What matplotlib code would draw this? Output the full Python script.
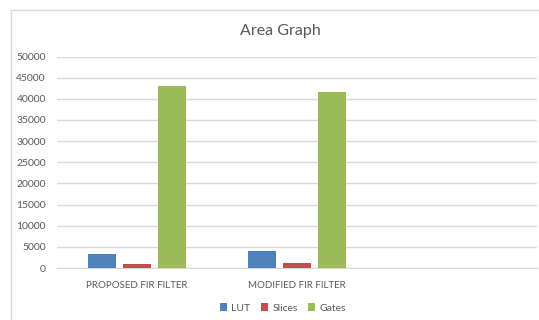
import matplotlib.pyplot as plt
import numpy as np

plt.rcParams['font.family'] = ['Lato', 'DejaVu Sans']

categories = ['PROPOSED FIR FILTER', 'MODIFIED FIR FILTER']
lut = [3300, 4100]
slices = [870, 1100]
gates = [43000, 41500]
y_ticks = list(range(0, 50001, 5000))

series = [('LUT', lut, '#4F81BD'),
          ('Slices', slices, '#C0504D'),
          ('Gates', gates, '#9BBB59')]

fig = plt.figure(figsize=(5.39, 3.2), dpi=100)
ax = fig.add_axes([57 / 539, 1 - 268 / 320, 480 / 539, 211.5 / 320])

# chart frame (top and left edges only are visible)
fig.add_artist(plt.Line2D([11 / 539, 1], [1 - 10 / 320] * 2, color='#D9D9D9', lw=1))
fig.add_artist(plt.Line2D([11 / 539] * 2, [0, 1 - 10 / 320], color='#D9D9D9', lw=1))

x = np.arange(len(categories))
width = 0.175
offsets = [-0.22, 0.0, 0.22]
for (name, vals, col), off in zip(series, offsets):
    ax.bar(x + off, vals, width, color=col, label=name, zorder=3)

ax.set_xlim(-0.5, 2.5)
ax.set_ylim(0, 50000)
ax.set_yticks(y_ticks)
ax.set_xticks(x)
ax.set_xticklabels(categories)
ax.grid(axis='y', color='#D9D9D9', lw=1, zorder=0)
for s in ['top', 'right', 'left']:
    ax.spines[s].set_visible(False)
ax.spines['bottom'].set_color('#D9D9D9')
ax.tick_params(axis='both', length=0, colors='#595959')
ax.tick_params(axis='y', pad=8, labelsize=7.5)
ax.tick_params(axis='x', pad=9, labelsize=7)

fig.text(280 / 539, 1 - 31 / 320, 'Area Graph', ha='center', va='center',
         fontsize=11.5, color='#595959')

fig.legend(loc='center', bbox_to_anchor=(283 / 539, 1 - 308 / 320), ncol=3,
           frameon=False, fontsize=7.5, handlelength=0.7, handleheight=0.7,
           handletextpad=0.4, columnspacing=1.0, labelcolor='#595959')

plt.savefig('out.png', dpi=100)
